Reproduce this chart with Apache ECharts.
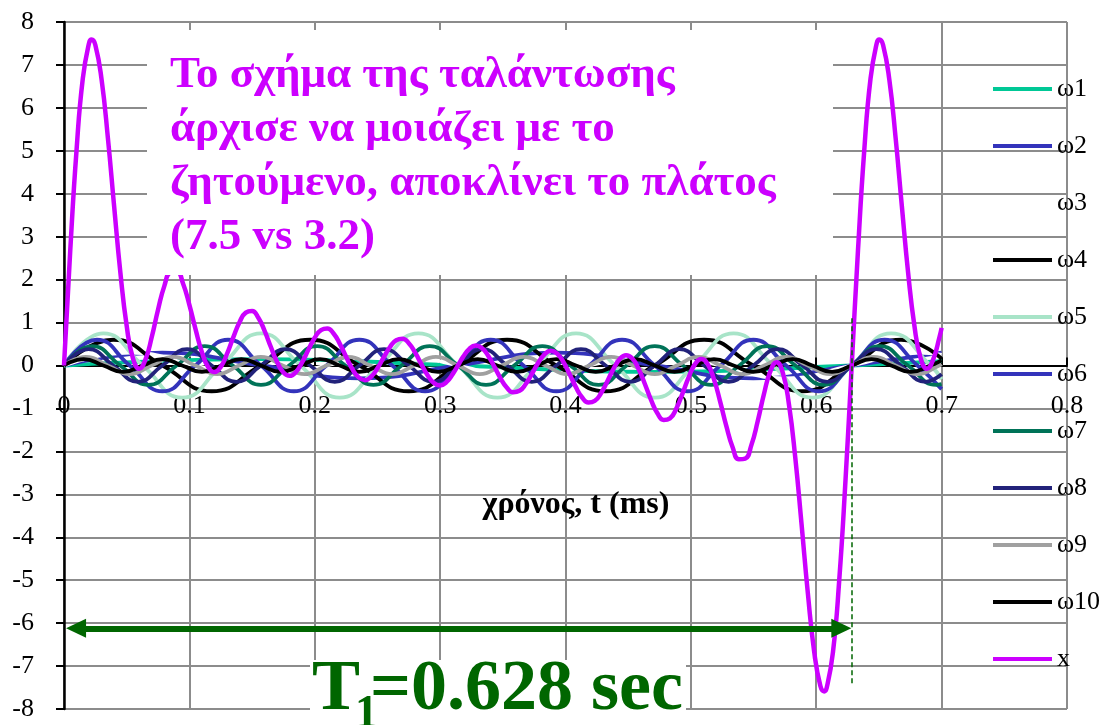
<!DOCTYPE html>
<html>
<head>
<meta charset="utf-8">
<script src="https://cdn.jsdelivr.net/npm/echarts@6/dist/echarts.min.js"></script>
<style>
  html, body { margin: 0; padding: 0; background: #fff; }
  #chart { width: 1108px; height: 725px; }
</style>
</head>
<body>
<div id="chart"></div>
<script>
// Συνιστώσες ω1..ω10: χρόνος (ms) και τιμή, διαβασμένα από τα ακρότατα και τους μηδενισμούς
const w1T = [0, 0.1571, 0.3142, 0.4712, 0.6283, 0.7];
const w1Y = [0, 0.15, 0, -0.15, 0, 0.1];

const w2T = [0, 0.0785, 0.1571, 0.2356, 0.3142, 0.3927, 0.4712, 0.5498, 0.6283, 0.7];
const w2Y = [0, 0.3, 0, -0.3, 0, 0.3, 0, -0.3, 0, 0.3];

const w3T = [0, 0.0524, 0.1047, 0.1571, 0.2094, 0.2618, 0.3142, 0.3665, 0.4189, 0.4712, 0.5236, 0.5760, 0.6283, 0.6807, 0.7];
const w3Y = [0, 0.3, 0, -0.3, 0, 0.3, 0, -0.3, 0, 0.3, 0, -0.3, 0, 0.3, 0.25];

const w4T = [0, 0.0393, 0.0785, 0.1178, 0.1571, 0.1963, 0.2356, 0.2749, 0.3142, 0.3534, 0.3927, 0.4320, 0.4712, 0.5105, 0.5498, 0.5890, 0.6283, 0.6676, 0.7];
const w4Y = [0, 0.6, 0, -0.6, 0, 0.6, 0, -0.6, 0, 0.6, 0, -0.6, 0, 0.6, 0, -0.6, 0, 0.6, 0.16];

const w5T = [0, 0.0314, 0.0628, 0.0942, 0.1257, 0.1571, 0.1885, 0.2199, 0.2513, 0.2827, 0.3142, 0.3456, 0.3770, 0.4084, 0.4398, 0.4712, 0.5027, 0.5341, 0.5655, 0.5969, 0.6283, 0.6597, 0.6912, 0.7];
const w5Y = [0, 0.75, 0, -0.75, 0, 0.75, 0, -0.75, 0, 0.75, 0, -0.75, 0, 0.75, 0, -0.75, 0, 0.75, 0, -0.75, 0, 0.75, 0, -0.32];

const w6T = [0, 0.0262, 0.0524, 0.0785, 0.1047, 0.1309, 0.1571, 0.1833, 0.2094, 0.2356, 0.2618, 0.2880, 0.3142, 0.3403, 0.3665, 0.3927, 0.4189, 0.4451, 0.4712, 0.4974, 0.5236, 0.5498, 0.5760, 0.6021, 0.6283, 0.6545, 0.6807, 0.7];
const w6Y = [0, 0.6, 0, -0.6, 0, 0.6, 0, -0.6, 0, 0.6, 0, -0.6, 0, 0.6, 0, -0.6, 0, 0.6, 0, -0.6, 0, 0.6, 0, -0.6, 0, 0.6, 0, -0.55];

const w7T = [0, 0.0224, 0.0449, 0.0673, 0.0898, 0.1122, 0.1346, 0.1571, 0.1795, 0.2020, 0.2244, 0.2468, 0.2693, 0.2917, 0.3142, 0.3366, 0.3590, 0.3815, 0.4039, 0.4264, 0.4488, 0.4712, 0.4937, 0.5161, 0.5386, 0.5610, 0.5834, 0.6059, 0.6283, 0.6507, 0.6732, 0.6956, 0.7];
const w7Y = [0, 0.45, 0, -0.45, 0, 0.45, 0, -0.45, 0, 0.45, 0, -0.45, 0, 0.45, 0, -0.45, 0, 0.45, 0, -0.45, 0, 0.45, 0, -0.45, 0, 0.45, 0, -0.45, 0, 0.45, 0, -0.45, -0.43];

const w8T = [0, 0.0196, 0.0393, 0.0589, 0.0785, 0.0982, 0.1178, 0.1374, 0.1571, 0.1767, 0.1963, 0.2160, 0.2356, 0.2553, 0.2749, 0.2945, 0.3142, 0.3338, 0.3534, 0.3731, 0.3927, 0.4123, 0.4320, 0.4516, 0.4712, 0.4909, 0.5105, 0.5301, 0.5498, 0.5694, 0.5890, 0.6087, 0.6283, 0.6480, 0.6676, 0.6872, 0.7];
const w8Y = [0, 0.38, 0, -0.38, 0, 0.38, 0, -0.38, 0, 0.38, 0, -0.38, 0, 0.38, 0, -0.38, 0, 0.38, 0, -0.38, 0, 0.38, 0, -0.38, 0, 0.38, 0, -0.38, 0, 0.38, 0, -0.38, 0, 0.38, 0, -0.38, -0.2];

const w9T = [0, 0.0175, 0.0349, 0.0524, 0.0698, 0.0873, 0.1047, 0.1222, 0.1396, 0.1571, 0.1745, 0.1920, 0.2094, 0.2269, 0.2443, 0.2618, 0.2793, 0.2967, 0.3142, 0.3316, 0.3491, 0.3665, 0.3840, 0.4014, 0.4189, 0.4363, 0.4538, 0.4712, 0.4887, 0.5061, 0.5236, 0.5411, 0.5585, 0.5760, 0.5934, 0.6109, 0.6283, 0.6458, 0.6632, 0.6807, 0.6981, 0.7];
const w9Y = [0, 0.2, 0, -0.2, 0, 0.2, 0, -0.2, 0, 0.2, 0, -0.2, 0, 0.2, 0, -0.2, 0, 0.2, 0, -0.2, 0, 0.2, 0, -0.2, 0, 0.2, 0, -0.2, 0, 0.2, 0, -0.2, 0, 0.2, 0, -0.2, 0, 0.2, 0, -0.2, 0, 0.03];

const w10T = [0, 0.0157, 0.0314, 0.0471, 0.0628, 0.0785, 0.0942, 0.1100, 0.1257, 0.1414, 0.1571, 0.1728, 0.1885, 0.2042, 0.2199, 0.2356, 0.2513, 0.2670, 0.2827, 0.2985, 0.3142, 0.3299, 0.3456, 0.3613, 0.3770, 0.3927, 0.4084, 0.4241, 0.4398, 0.4555, 0.4712, 0.4869, 0.5027, 0.5184, 0.5341, 0.5498, 0.5655, 0.5812, 0.5969, 0.6126, 0.6283, 0.6440, 0.6597, 0.6754, 0.6912, 0.7];
const w10Y = [0, 0.15, 0, -0.15, 0, 0.15, 0, -0.15, 0, 0.15, 0, -0.15, 0, 0.15, 0, -0.15, 0, 0.15, 0, -0.15, 0, 0.15, 0, -0.15, 0, 0.15, 0, -0.15, 0, 0.15, 0, -0.15, 0, 0.15, 0, -0.15, 0, 0.15, 0, -0.15, 0, 0.15, 0, -0.15, 0, 0.12];

// Συνολική ταλάντωση x(t)
const xPoints = [
  [0, 0], [0.005, 2.687], [0.010, 5.014], [0.015, 6.682], [0.020, 7.512], [0.022, 7.59], [0.025, 7.466],
  [0.030, 6.654], [0.035, 5.301], [0.040, 3.702], [0.045, 2.156], [0.050, 0.922], [0.055, 0.164],
  [0.060, -0.075], [0.065, 0.142], [0.070, 0.664], [0.075, 1.299], [0.080, 1.849], [0.085, 2.168],
  [0.090, 2.184], [0.095, 1.904], [0.100, 1.412], [0.105, 0.834], [0.110, 0.311], [0.115, -0.039],
  [0.120, -0.154], [0.125, -0.032], [0.130, 0.271], [0.135, 0.655], [0.140, 1.007], [0.145, 1.232],
  [0.150, 1.270], [0.155, 1.113], [0.160, 0.807], [0.165, 0.430], [0.170, 0.079], [0.175, -0.162],
  [0.180, -0.241], [0.185, -0.149], [0.190, 0.079], [0.195, 0.372], [0.200, 0.646], [0.205, 0.826],
  [0.210, 0.862], [0.215, 0.745], [0.220, 0.505], [0.225, 0.204], [0.230, -0.081], [0.235, -0.277],
  [0.240, -0.341], [0.245, -0.261], [0.250, -0.065], [0.255, 0.190], [0.260, 0.430], [0.265, 0.590],
  [0.270, 0.623], [0.275, 0.520], [0.280, 0.305], [0.285, 0.033], [0.290, -0.226], [0.295, -0.406],
  [0.300, -0.464], [0.305, -0.388], [0.310, -0.201], [0.3142, 0],
  [0.3183, 0.201], [0.3233, 0.388], [0.3283, 0.464], [0.3333, 0.406], [0.3383, 0.226], [0.3433, -0.033],
  [0.3483, -0.305], [0.3533, -0.520], [0.3583, -0.623], [0.3633, -0.590], [0.3683, -0.430], [0.3733, -0.190],
  [0.3783, 0.065], [0.3833, 0.261], [0.3883, 0.341], [0.3933, 0.277], [0.3983, 0.081], [0.4033, -0.204],
  [0.4083, -0.505], [0.4133, -0.745], [0.4183, -0.862], [0.4233, -0.826], [0.4283, -0.646], [0.4333, -0.372],
  [0.4383, -0.079], [0.4433, 0.149], [0.4483, 0.241], [0.4533, 0.162], [0.4583, -0.079], [0.4633, -0.430],
  [0.4683, -0.807], [0.4733, -1.113], [0.4783, -1.270], [0.4833, -1.232], [0.4883, -1.007], [0.4933, -0.655],
  [0.4983, -0.271], [0.5033, 0.032], [0.5083, 0.154], [0.5133, 0.039], [0.5183, -0.311], [0.5233, -0.834],
  [0.5283, -1.412], [0.5333, -1.904], [0.5383, -2.184], [0.5433, -2.168], [0.5483, -1.849], [0.5533, -1.299],
  [0.5583, -0.664], [0.5633, -0.142], [0.5683, 0.075], [0.5733, -0.164], [0.5783, -0.922], [0.5833, -2.156],
  [0.5883, -3.702], [0.5933, -5.301], [0.5983, -6.654], [0.6033, -7.466], [0.6063, -7.59], [0.6083, -7.512],
  [0.6133, -6.682], [0.6183, -5.014], [0.6233, -2.687], [0.6283, 0],
  [0.6333, 2.687], [0.6383, 5.014], [0.6433, 6.682], [0.6483, 7.512], [0.6503, 7.59], [0.6533, 7.466],
  [0.6583, 6.654], [0.6633, 5.301], [0.6683, 3.702], [0.6733, 2.156], [0.6783, 0.922], [0.6833, 0.164],
  [0.6883, -0.075], [0.6933, 0.142], [0.6983, 0.664], [0.7, 0.877]
];

const seriesNames = ['ω1', 'ω2', 'ω3', 'ω4', 'ω5', 'ω6', 'ω7', 'ω8', 'ω9', 'ω10', 'x'];
const componentT = [w1T, w2T, w3T, w4T, w5T, w6T, w7T, w8T, w9T, w10T];
const componentY = [w1Y, w2Y, w3Y, w4Y, w5Y, w6Y, w7Y, w8Y, w9Y, w10Y];

// Περίοδος T1 (βέλος) και κατακόρυφη διακεκομμένη
const periodT1 = 0.628;
const arrowLevel = -6.12;
const dashedRange = [1.1, -7.4];

const SERIF = '"Liberation Serif", "Times New Roman", serif';
const lineColors = ['#00c896', '#3333bb', '#ffffff', '#000000', '#a8e4c8', '#3333bb', '#007358', '#22227a', '#a0a0a0', '#000000', '#cc00ff'];
const GREEN = '#006600';

// πλέγμα: ο άξονας του χρόνου περνά από το μηδέν, στη μέση του ύψους
const GRID = { left: 64, right: 41, top: 22, bottom: 16 };
const plotHeight = 725 - GRID.top - GRID.bottom;

const chart = echarts.init(document.getElementById('chart'), null, { renderer: 'canvas' });

const series = componentT.map((ts, i) => ({
    name: seriesNames[i],
    type: 'line',
    data: ts.map((t, j) => [t, componentY[i][j]]),
    smooth: true,
    symbol: 'none',
    lineStyle: { width: 3.8, color: lineColors[i] },
    itemStyle: { color: lineColors[i] },
    silent: true
}));

series.push({
    name: 'x',
    type: 'line',
    data: xPoints,
    smooth: true,
    symbol: 'none',
    lineStyle: { width: 4.5, color: lineColors[10] },
    itemStyle: { color: lineColors[10] },
    silent: true
});

// βέλος διπλής κατεύθυνσης για την περίοδο
series.push({
    name: 'period',
    type: 'line',
    data: [],
    z: 5,
    markLine: {
        silent: true,
        animation: false,
        symbol: ['triangle', 'triangle'],
        symbolSize: [19, 20],
        label: { show: false },
        lineStyle: { color: GREEN, width: 6, type: 'solid' },
        data: [[{ coord: [0.0096, arrowLevel] }, { coord: [periodT1 - 0.008, arrowLevel] }]]
    }
});

series.push({
    name: 'dash',
    type: 'line',
    data: [],
    z: 5,
    markLine: {
        silent: true,
        animation: false,
        symbol: ['none', 'none'],
        label: { show: false },
        lineStyle: { color: GREEN, width: 1.5, type: [5, 3] },
        data: [[{ coord: [periodT1, dashedRange[0]] }, { coord: [periodT1, dashedRange[1]] }]]
    }
});

const option = {
    animation: false,
    backgroundColor: '#fff',
    grid: Object.assign({ outerBoundsMode: 'none', containLabel: false }, GRID),
    legend: {
        data: seriesNames,
        orient: 'vertical',
        left: 988,
        top: 69,
        icon: 'rect',
        itemWidth: 59,
        itemHeight: 4,
        itemGap: 27,
        selectedMode: false,
        textStyle: { fontSize: 26, fontFamily: SERIF, color: '#000', lineHeight: 30 }
    },
    xAxis: {
        type: 'value',
        min: 0,
        max: 0.8,
        interval: 0.1,
        position: 'bottom',
        offset: -plotHeight / 2,
        axisLine: { onZero: false, lineStyle: { color: '#000', width: 2 } },
        axisTick: { show: true, inside: true, length: 8, lineStyle: { color: '#000', width: 2 } },
        axisLabel: {
            margin: 28,
            fontSize: 26,
            fontFamily: SERIF,
            color: '#000',
            formatter: v => (v === 0 ? '0' : v.toFixed(1))
        },
        splitLine: { show: true, lineStyle: { color: '#8c8c8c', width: 2 } }
    },
    yAxis: {
        type: 'value',
        min: -8,
        max: 8,
        interval: 1,
        axisLine: { show: true, onZero: false, lineStyle: { color: '#000', width: 2.5 } },
        axisTick: { show: true, length: 8, lineStyle: { color: '#000', width: 2 } },
        axisLabel: { margin: 30, fontSize: 26, fontFamily: SERIF, color: '#000' },
        splitLine: { show: true, lineStyle: { color: '#8c8c8c', width: 2 } }
    },
    graphic: [
        { type: 'rect', left: 147, top: 30, z: 100, shape: { width: 686, height: 245 }, style: { fill: '#fff' } },
        {
            type: 'text', left: 170, top: 48, z: 101,
            style: {
                text: 'Το σχήμα της ταλάντωσης\nάρχισε να μοιάζει με το\nζητούμενο, αποκλίνει το πλάτος\n(7.5 vs 3.2)',
                font: 'bold 45px ' + SERIF,
                lineHeight: 54,
                fill: '#cc00ff'
            }
        },
        {
            type: 'text', x: 576, y: 505, z: 101,
            style: { text: 'χρόνος, t (ms)', font: 'bold 32px ' + SERIF, fill: '#000', align: 'center', verticalAlign: 'middle' }
        },
        { type: 'rect', left: 310, top: 660, z: 100, shape: { width: 376, height: 65 }, style: { fill: '#fff' } },
        {
            type: 'text', x: 312, y: 690, z: 101,
            style: { text: 'T', font: 'bold 72px ' + SERIF, fill: GREEN, align: 'left', verticalAlign: 'middle' }
        },
        {
            type: 'text', x: 355, y: 715, z: 101,
            style: { text: '1', font: 'bold 46px ' + SERIF, fill: GREEN, align: 'left', verticalAlign: 'middle' }
        },
        {
            type: 'text', x: 370, y: 690, z: 101,
            style: { text: '=0.628 sec', font: 'bold 72px ' + SERIF, fill: GREEN, align: 'left', verticalAlign: 'middle' }
        }
    ],
    series: series
};

chart.setOption(option);
</script>
</body>
</html>
